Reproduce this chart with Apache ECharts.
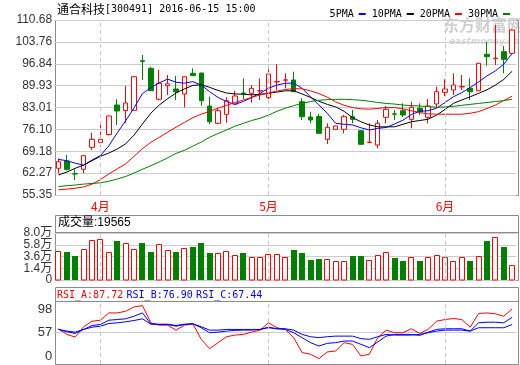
<!DOCTYPE html>
<html><head><meta charset="utf-8">
<script src="https://cdn.jsdelivr.net/npm/echarts@6/dist/echarts.min.js"></script>
<style>html,body{margin:0;padding:0;background:#fff}#c{width:520px;height:365px}</style>
</head><body><div id="c"></div>
<script>
const stockName = '通合科技';
const stockInfo = '[300491] 2016-06-15 15:00';
const dates = ['2016-03-25','2016-03-28','2016-03-29','2016-03-30','2016-03-31',
'2016-04-01','2016-04-05','2016-04-06','2016-04-07','2016-04-08',
'2016-04-11','2016-04-12','2016-04-13','2016-04-14','2016-04-15',
'2016-04-18','2016-04-19','2016-04-20','2016-04-21','2016-04-22',
'2016-04-25','2016-04-26','2016-04-27','2016-04-28','2016-04-29',
'2016-05-03','2016-05-04','2016-05-05','2016-05-06',
'2016-05-09','2016-05-10','2016-05-11','2016-05-12','2016-05-13',
'2016-05-16','2016-05-17','2016-05-18','2016-05-19','2016-05-20',
'2016-05-23','2016-05-24','2016-05-25','2016-05-26','2016-05-27',
'2016-05-30','2016-05-31',
'2016-06-01','2016-06-02','2016-06-03','2016-06-06','2016-06-07','2016-06-08',
'2016-06-13','2016-06-14','2016-06-15'];
const opens  = [63.79,66.10,62.05,63.47,70.43,71.95,74.47,83.80,82.06,82.13,97.80,95.41,85.61,89.90,88.86,87.28,93.83,93.92,83.49,78.02,80.86,84.12,87.60,87.50,88.25,86.11,91.10,91.65,91.71,84.85,80.01,80.17,72.96,76.12,76.12,80.10,75.68,71.95,71.16,79.91,81.00,82.00,79.28,82.76,79.91,84.12,87.82,88.55,89.55,89.08,88.32,99.83,98.50,100.66,100.15];
const closes = [65.88,63.47,61.99,67.77,72.96,72.96,80.33,81.91,84.44,92.75,97.60,88.32,90.66,90.50,88.01,92.75,93.07,85.16,78.52,82.00,85.16,86.65,87.40,89.08,88.35,93.61,91.20,91.75,88.01,80.10,79.06,74.85,76.75,77.16,80.10,79.28,71.38,72.05,78.02,82.44,80.90,80.64,83.08,81.69,83.49,88.01,88.86,90.13,89.60,88.01,96.99,99.08,98.60,98.25,107.52];
const lows   = [62.21,63.09,60.09,62.21,69.57,70.62,74.16,77.48,78.11,81.90,91.71,88.20,85.29,86.97,85.38,83.08,92.97,83.58,77.80,77.80,78.21,84.00,85.70,84.53,85.38,85.70,88.55,89.08,87.95,79.06,78.02,74.80,71.47,76.05,74.85,78.02,71.30,71.90,70.11,78.02,79.06,80.00,76.44,80.64,78.02,83.08,86.65,86.97,88.55,85.38,88.20,96.23,96.45,93.83,100.10];
const highs  = [66.95,68.00,63.47,67.90,75.04,78.59,80.40,85.61,89.81,93.00,99.61,95.91,94.87,93.29,92.97,92.80,95.41,94.00,86.43,82.95,86.24,88.23,92.25,90.13,92.25,95.09,96.77,93.83,94.33,85.92,81.69,80.96,78.02,77.25,80.64,82.22,75.80,78.02,79.06,83.49,82.22,84.34,84.85,84.34,85.70,89.59,91.93,93.83,93.29,92.25,97.10,103.82,109.10,102.46,107.60];
const ma5  = [66.6,66.2,65.4,64.8,66.4,67.8,70.9,75.0,78.8,82.9,87.4,89.3,90.8,92.0,91.0,90.7,91.2,90.1,88.0,86.2,84.9,84.0,84.9,86.2,87.5,89.1,90.1,90.7,90.7,89.1,86.4,83.8,81.2,78.0,77.7,77.5,76.6,75.9,76.4,76.7,77.8,79.0,80.8,81.8,82.0,82.8,84.6,86.4,87.7,89.3,91.1,93.0,94.6,96.7,100.1];
const ma10 = [61.7,62.6,63.8,64.8,66.2,67.6,68.6,69.9,71.5,74.3,77.8,81.2,83.8,85.8,87.6,88.9,90.0,90.2,89.4,88.4,87.6,87.3,87.2,87.0,87.2,87.5,87.9,88.3,88.3,87.3,86.2,85.0,84.0,83.2,81.8,79.8,78.5,77.5,76.9,76.9,76.9,77.7,78.5,78.9,79.3,80.6,82.4,84.3,85.4,86.4,87.5,88.6,90.1,91.9,94.5];
const ma20 = [57.0,57.2,57.5,57.9,58.8,60.2,62.0,63.6,65.2,67.6,70.0,72.0,73.6,75.2,76.8,78.3,79.8,80.9,81.8,82.8,83.7,84.6,85.4,86.2,87.0,87.6,88.2,88.7,89.0,88.9,88.3,87.4,86.3,84.8,83.7,83.0,82.6,82.5,82.7,83.0,83.0,82.6,82.0,81.4,81.0,80.9,80.9,80.9,80.9,81.2,81.7,82.7,83.8,85.2,86.6];
const ma30 = [58.0,58.3,58.5,58.8,59.0,59.2,59.7,60.4,61.2,62.3,63.5,64.6,65.8,67.1,68.5,69.5,70.8,72.1,73.6,74.8,75.9,77.1,78.0,78.9,79.6,80.6,81.8,82.8,83.6,84.3,84.9,85.3,85.5,85.6,85.6,85.5,85.3,85.0,84.6,84.3,84.1,83.8,83.6,83.5,83.3,83.1,83.2,83.4,83.7,84.0,84.3,84.6,84.9,85.2,85.6];
const volumes = [46300,44400,36900,49500,66300,68200,44400,65000,60700,49500,61300,44400,59400,47600,44400,51300,53800,61300,42600,42600,46300,38800,42600,35100,35100,40100,40100,34500,48200,42600,29400,31300,30800,27000,27000,36900,36900,28900,38200,43800,33200,27600,34500,27600,34500,38200,34500,27000,34500,27600,36400,65000,71900,53800,19565];
const rsiA = [61.9,54.5,51.0,64.4,71.7,73.0,82.5,82.5,84.6,90.3,92.0,69.6,66.5,66.5,60.1,66.5,68.3,48.1,36.0,43.8,51.5,53.6,54.5,57.5,60.0,69.6,63.2,61.0,50.3,30.9,28.7,23.0,31.7,33.0,43.8,41.6,26.5,28.7,50.3,60.1,56.7,56.7,61.9,55.8,61.0,71.7,73.9,75.2,73.9,63.9,81.7,82.5,81.3,78.2,87.72];
const rsiB = [61.0,58.0,55.8,61.0,66.1,67.4,73.0,73.9,74.8,78.2,82.5,68.3,67.4,67.4,65.2,67.4,68.3,63.2,56.7,57.5,58.8,59.7,60.1,60.1,61.0,63.9,61.9,61.0,56.7,50.3,43.8,39.4,42.9,43.8,45.9,45.9,41.6,37.3,44.6,52.3,54.5,54.5,54.5,53.2,57.5,61.0,61.9,61.9,61.9,58.8,69.6,70.4,70.4,69.6,76.90];
const rsiC = [61.0,58.8,57.5,61.0,63.9,65.2,68.7,69.6,70.9,72.6,74.8,67.8,67.8,67.8,66.1,67.8,68.3,64.5,60.1,60.1,61.0,61.0,61.0,61.0,61.0,63.2,61.9,61.9,60.1,54.5,51.5,50.3,51.5,52.3,52.3,52.3,49.0,48.1,51.5,54.5,53.6,53.6,53.6,54.5,56.7,58.8,60.1,60.1,60.1,58.8,63.2,63.2,63.2,63.2,67.44];
const priceTicks = [55.35,62.27,69.18,76.10,83.01,89.93,96.84,103.76,110.68];
const priceTickLabels = ['55.35','62.27','69.18','76.10','83.01','89.93','96.84','103.76','110.68'];
const volTicks = [-8000,14000,36000,58000,80000];
const volTickLabels = ['0','1.4万','3.6万','5.8万','8.0万'];
const rsiRange = [16, 98];
const rsiGridTicks = [57];
const rsiLabelAt = [26.4, 57, 86.4];
const rsiTickLabels = ['0','57','98'];
const maNames = ['5PMA','10PMA','20PMA','30PMA'];

const RED = '#ff0000', GREEN = '#008000', BLUE = '#0000ff';
const GRID_L = 54.2, GRID_W = 462.2;
const nearest = (ticks, v) => { let b = 0; ticks.forEach((t, i) => { if (Math.abs(t - v) < Math.abs(ticks[b] - v)) b = i; }); return b; };
const monthStartIdx = dates.map((d, i) => i > 0 && d.slice(5, 7) !== dates[i - 1].slice(5, 7) ? i : -1).filter(i => i >= 0);
const monthLines = {
  silent: true, symbol: 'none', animation: false,
  label: { show: false }, emphasis: { disabled: true },
  lineStyle: { color: '#c8c8c8', type: [4, 3], width: 1 },
  data: monthStartIdx.map(i => ({ xAxis: dates[i] }))
};
const kData = dates.map((d, i) => [opens[i], closes[i], lows[i], highs[i]]);
const volData = dates.map((d, i) => [i, volumes[i], closes[i] >= opens[i] ? 1 : 0]);
const volTicksEven = volTicks.filter((t, i) => i % 2 === 0);
const volTicksOdd = volTicks.filter((t, i) => i % 2 === 1);
const baseFont = 'Liberation Sans, Noto Sans CJK SC, sans-serif';
const monoFont = 'DejaVu Sans Mono, monospace';
const cjkFont = 'Noto Sans CJK SC, sans-serif';

const chart = echarts.init(document.getElementById('c'), null, { renderer: 'canvas' });
const hiddenX = (gi) => ({
  type: 'category', gridIndex: gi, data: dates, boundaryGap: true,
  axisLine: { show: false }, axisTick: { show: false }, axisLabel: { show: false }, splitLine: { show: false }
});
const volAxis = (ticks) => ({
  type: 'value', gridIndex: 1, min: volTicks[0], max: volTicks[volTicks.length - 1], position: 'left',
  axisLine: { show: false },
  axisTick: { show: false, customValues: ticks },
  axisLabel: { customValues: ticks, showMinLabel: true, showMaxLabel: true,
    formatter: (v) => volTickLabels[nearest(volTicks, v)],
    color: '#333', fontSize: 12, fontFamily: baseFont, margin: 2 },
  splitLine: { show: true, lineStyle: { color: '#cccccc', width: 1 } }
});
chart.setOption({
  animation: false,
  backgroundColor: '#fff',
  legend: {
    data: maNames, right: 5, top: 4, itemGap: 6, itemWidth: 7, itemHeight: 2,
    icon: 'rect', align: 'right', selectedMode: false,
    textStyle: { fontFamily: monoFont, fontSize: 10, color: '#000' }
  },
  grid: [
    { left: GRID_L, width: GRID_W, top: 20, height: 175 },
    { left: GRID_L, width: GRID_W, top: 233, height: 47 },
    { left: GRID_L, width: GRID_W, top: 301, height: 63 }
  ],
  xAxis: [
    {
      type: 'category', gridIndex: 0, data: dates, boundaryGap: true,
      axisLine: { show: false }, axisTick: { show: false }, splitLine: { show: false },
      axisLabel: {
        interval: (idx) => monthStartIdx.indexOf(idx) >= 0,
        formatter: (v) => parseInt(v.slice(5, 7), 10) + '月',
        color: RED, fontSize: 12, fontFamily: cjkFont, margin: 5
      }
    },
    hiddenX(1), hiddenX(2)
  ],
  yAxis: [
    {
      type: 'value', gridIndex: 0, min: priceTicks[0], max: priceTicks[priceTicks.length - 1],
      axisLine: { show: false },
      axisTick: { show: false, customValues: priceTicks },
      axisLabel: { customValues: priceTicks, showMinLabel: true, showMaxLabel: true,
        formatter: (v) => priceTickLabels[nearest(priceTicks, v)],
        color: '#333', fontSize: 12, fontFamily: baseFont, margin: 2 },
      splitLine: { show: true, lineStyle: { color: '#cccccc', width: 1 } }
    },
    volAxis(volTicksEven),
    {
      type: 'value', gridIndex: 2, min: rsiRange[0], max: rsiRange[1],
      axisLine: { show: false },
      axisTick: { show: false, customValues: rsiGridTicks },
      axisLabel: {
        customValues: rsiLabelAt, showMinLabel: true, showMaxLabel: true,
        formatter: (v) => rsiTickLabels[nearest(rsiLabelAt, v)],
        margin: 2, fontSize: 13, fontFamily: baseFont, color: '#333'
      },
      splitLine: { show: true, lineStyle: { color: '#cccccc', width: 1 } }
    },
    volAxis(volTicksOdd)
  ],
  graphic: [
    { type: 'text', silent: true, z: 0, left: 443, top: 17,
      style: { text: '东方财富网', font: 'bold 16px Noto Sans CJK SC', fill: '#cfcfcf' } },
    { type: 'text', silent: true, z: 0, left: 449, top: 37,
      style: { text: 'eastmoney.com', font: 'bold italic 9px DejaVu Sans', fill: '#d6d6d6' } },
    { type: 'text', silent: true, left: 57, top: 3,
      style: { text: '{a|' + stockName + '}{b|' + stockInfo + '}',
        rich: { a: { fontFamily: cjkFont, fontSize: 12, fill: '#000' }, b: { fontFamily: monoFont, fontSize: 10, fill: '#000' } } } },
    { type: 'rect', silent: true, shape: { x: 55.5, y: 20.5, width: 463, height: 175 }, style: { fill: 'none', stroke: '#8c8c8c', lineWidth: 1 } },
    { type: 'rect', silent: true, shape: { x: 55.5, y: 215.5, width: 463, height: 65 }, style: { fill: 'none', stroke: '#8c8c8c', lineWidth: 1 } },
    { type: 'line', silent: true, shape: { x1: 55.5, y1: 232.5, x2: 518.5, y2: 232.5 }, style: { stroke: '#8c8c8c', lineWidth: 1 } },
    { type: 'text', silent: true, left: 58, top: 217,
      style: { text: '成交量:' + volumes[volumes.length - 1], font: '12px Liberation Sans, Noto Sans CJK SC', fill: '#000' } },
    { type: 'rect', silent: true, shape: { x: 55.5, y: 287.5, width: 463, height: 77 }, style: { fill: 'none', stroke: '#8c8c8c', lineWidth: 1 } },
    { type: 'line', silent: true, shape: { x1: 55.5, y1: 301.5, x2: 518.5, y2: 301.5 }, style: { stroke: '#8c8c8c', lineWidth: 1 } },
    { type: 'text', silent: true, left: 57, top: 289,
      style: { text: '{a|RSI_A:' + rsiA[rsiA.length - 1].toFixed(2) + '} {b|RSI_B:' + rsiB[rsiB.length - 1].toFixed(2) + '} {b|RSI_C:' + rsiC[rsiC.length - 1].toFixed(2) + '}',
        rich: { a: { fontFamily: monoFont, fontSize: 10, fill: RED }, b: { fontFamily: monoFont, fontSize: 10, fill: BLUE } } } }
  ],
  series: [
    {
      type: 'candlestick', name: 'K', xAxisIndex: 0, yAxisIndex: 0, data: kData, barWidth: 5,
      itemStyle: { color: '#ffffff', color0: GREEN, borderColor: RED, borderColor0: GREEN, borderWidth: 1 },
      markLine: monthLines
    },
    { type: 'line', name: maNames[0], xAxisIndex: 0, yAxisIndex: 0, data: ma5, color: BLUE, showSymbol: false, lineStyle: { width: 1, color: BLUE } },
    { type: 'line', name: maNames[1], xAxisIndex: 0, yAxisIndex: 0, data: ma10, color: '#000000', showSymbol: false, lineStyle: { width: 1, color: '#000000' } },
    { type: 'line', name: maNames[2], xAxisIndex: 0, yAxisIndex: 0, data: ma20, color: RED, showSymbol: false, lineStyle: { width: 1, color: RED } },
    { type: 'line', name: maNames[3], xAxisIndex: 0, yAxisIndex: 0, data: ma30, color: GREEN, showSymbol: false, lineStyle: { width: 1, color: GREEN } },
    {
      type: 'custom', name: 'VOL', xAxisIndex: 1, yAxisIndex: 1, data: volData,
      encode: { x: 0, y: 1 },
      renderItem: (params, api) => {
        const top = api.coord([api.value(0), api.value(1)]);
        const bottom = params.coordSys.y + params.coordSys.height;
        const up = api.value(2) === 1;
        const cx = Math.round(top[0]);
        const ty = Math.round(top[1]);
        if (up) {
          return { type: 'rect', shape: { x: cx - 2.5, y: ty + 0.5, width: 5, height: bottom - ty - 0.5 },
            style: { fill: '#ffffff', stroke: RED, lineWidth: 1 } };
        }
        return { type: 'rect', shape: { x: cx - 3, y: ty, width: 6, height: bottom - ty },
          style: { fill: GREEN } };
      },
      markLine: monthLines
    },
    { type: 'line', name: 'RSI_A', xAxisIndex: 2, yAxisIndex: 2, data: rsiA, showSymbol: false, lineStyle: { width: 1, color: RED }, color: RED, markLine: monthLines },
    { type: 'line', name: 'RSI_B', xAxisIndex: 2, yAxisIndex: 2, data: rsiB, showSymbol: false, lineStyle: { width: 1, color: BLUE }, color: BLUE },
    { type: 'line', name: 'RSI_C', xAxisIndex: 2, yAxisIndex: 2, data: rsiC, showSymbol: false, lineStyle: { width: 1, color: BLUE }, color: BLUE }
  ]
});
</script>
</body></html>
